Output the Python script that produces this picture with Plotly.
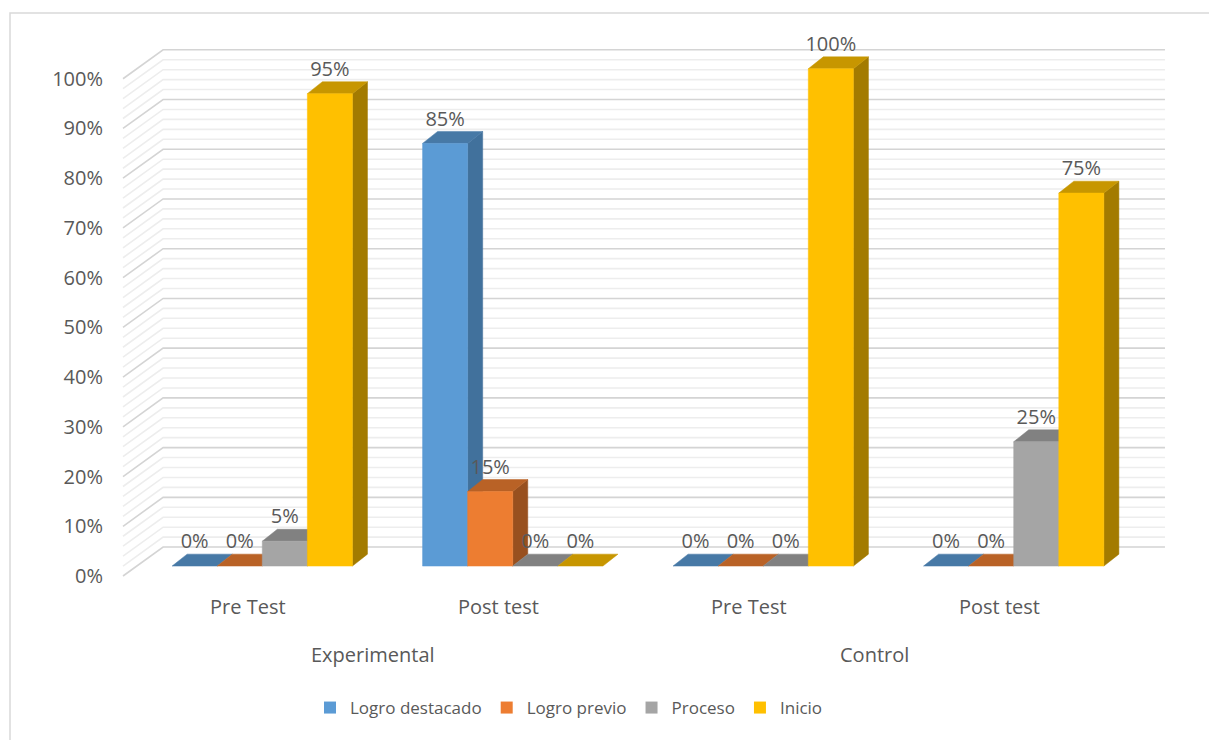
import plotly.graph_objects as go

# ---- data ----
groups = ["Experimental", "Control"]
tests = ["Pre Test", "Post test", "Pre Test", "Post test"]
series_names = ["Logro destacado", "Logro previo", "Proceso", "Inicio"]
logro_destacado = [0, 85, 0, 0]
logro_previo = [0, 15, 0, 0]
proceso = [5, 0, 0, 25]
inicio = [95, 0, 100, 75]
y_ticks = [0, 10, 20, 30, 40, 50, 60, 70, 80, 90, 100]
y_tick_labels = [f"{v}%" for v in y_ticks]

series_values = [logro_destacado, logro_previo, proceso, inicio]
front_colors = ["#5B9BD5", "#ED7D31", "#A5A5A5", "#FFC000"]
top_colors = ["#4779A6", "#B96226", "#818181", "#C79600"]
side_colors = ["#41719C", "#98501F", "#6A6A6A", "#A37B00"]

# ---- pseudo-3D geometry (axis units: x = category, y = percent) ----
WALL_DX, WALL_DY = 0.16, 5.82      # depth of the floor/side wall
BAR_W = 0.18                       # bar width
BAR_X0, BAR_Y0 = 0.056, 2.0        # bar front face offset from the front plane
BAR_DX, BAR_DY = 0.06, 2.4         # bar depth
LABEL_GAP = 2.2

X_MIN, X_MAX = -0.52, 3.68
Y_MIN, Y_MAX = -0.6, 110.0
M_L, M_B = 118, 161
PLOT_W, PLOT_H = 1052, 550
FIG_W, FIG_H = 1209, 740

TEXT_COLOR = "#595959"
FONT = dict(family="'Open Sans', Lato, sans-serif", size=20, color=TEXT_COLOR)
LEGEND_FONT = dict(family="'Open Sans', Lato, sans-serif", size=17, color=TEXT_COLOR)

fig = go.Figure()

# back wall and side wall gridlines
def grid_trace(levels, color, width):
    xs, ys = [], []
    for v in levels:
        xs += [-0.5, -0.5 + WALL_DX, 3.5 + WALL_DX, None]
        ys += [v, v + WALL_DY, v + WALL_DY, None]
    return go.Scatter(x=xs, y=ys, mode="lines", line=dict(color=color, width=width),
                      hoverinfo="skip", showlegend=False)

minor_levels = [v for v in range(0, 101, 2) if v % 10 != 0]
fig.add_trace(grid_trace(minor_levels, "#EDEDED", 1.6))
fig.add_trace(grid_trace(y_ticks, "#D4D4D4", 1.6))


def poly(xs, ys, color):
    return go.Scatter(x=xs + [xs[0]], y=ys + [ys[0]], mode="lines", fill="toself",
                      fillcolor=color, line=dict(color=color, width=0.5),
                      hoverinfo="skip", showlegend=False)


label_x, label_y, label_t = [], [], []
for i in range(len(tests)):
    center = i + BAR_X0
    for j, values in enumerate(series_values):
        v = values[i]
        xl = center - 2 * BAR_W + j * BAR_W
        xr = xl + BAR_W
        y0 = BAR_Y0
        y1 = BAR_Y0 + v
        if v > 0:
            fig.add_trace(poly([xr, xr + BAR_DX, xr + BAR_DX, xr],
                               [y0, y0 + BAR_DY, y1 + BAR_DY, y1], side_colors[j]))
        fig.add_trace(poly([xl, xr, xr + BAR_DX, xl + BAR_DX],
                           [y1, y1, y1 + BAR_DY, y1 + BAR_DY], top_colors[j]))
        if v > 0:
            fig.add_trace(poly([xl, xr, xr, xl], [y0, y0, y1, y1], front_colors[j]))
        label_x.append(xl + BAR_W / 2)
        label_y.append(y1 + BAR_DY + LABEL_GAP)
        label_t.append(f"{v}%")

fig.add_trace(go.Scatter(x=label_x, y=label_y, text=label_t, mode="text",
                         textposition="middle center", textfont=FONT, cliponaxis=False,
                         hoverinfo="skip", showlegend=False))

# legend entries
for name, color in zip(series_names, front_colors):
    fig.add_trace(go.Scatter(x=[None], y=[None], mode="markers", name=name,
                             marker=dict(symbol="square", size=12, color=color)))

annotations = []
for i, t in enumerate(tests):
    annotations.append(dict(x=i, y=0, xref="x", yref="y", text=t, showarrow=False,
                            yshift=-30, yanchor="middle", font=FONT))
for g, name in enumerate(groups):
    annotations.append(dict(x=2 * g + 0.5, y=0, xref="x", yref="y", text=name,
                            showarrow=False, yshift=-78, yanchor="middle", font=FONT))

# chart frame (top and left edges visible)
px_x = lambda p: (p - M_L) / PLOT_W
px_y = lambda p: (FIG_H - M_B - p) / PLOT_H
shapes = [dict(type="rect", xref="paper", yref="paper",
               x0=px_x(10), x1=px_x(1260), y0=px_y(800), y1=px_y(13),
               line=dict(color="#D9D9D9", width=1.5), fillcolor="rgba(0,0,0,0)",
               layer="below")]

fig.update_layout(
    width=FIG_W, height=FIG_H, autosize=False,
    margin=dict(l=M_L, r=FIG_W - M_L - PLOT_W, t=FIG_H - M_B - PLOT_H, b=M_B),
    paper_bgcolor="white", plot_bgcolor="white",
    font=FONT,
    xaxis=dict(range=[X_MIN, X_MAX], visible=False, fixedrange=True),
    yaxis=dict(range=[Y_MIN, Y_MAX], tickvals=y_ticks, ticktext=y_tick_labels,
               showgrid=False, zeroline=False, showline=False, ticks="",
               ticklabelstandoff=14, tickfont=FONT, automargin=False, fixedrange=True),
    legend=dict(orientation="h", x=px_x(569), y=px_y(708), xanchor="center",
                yanchor="middle", font=LEGEND_FONT, itemclick=False,
                bgcolor="rgba(0,0,0,0)"),
    annotations=annotations,
    shapes=shapes,
)

fig.write_html("out.html")
